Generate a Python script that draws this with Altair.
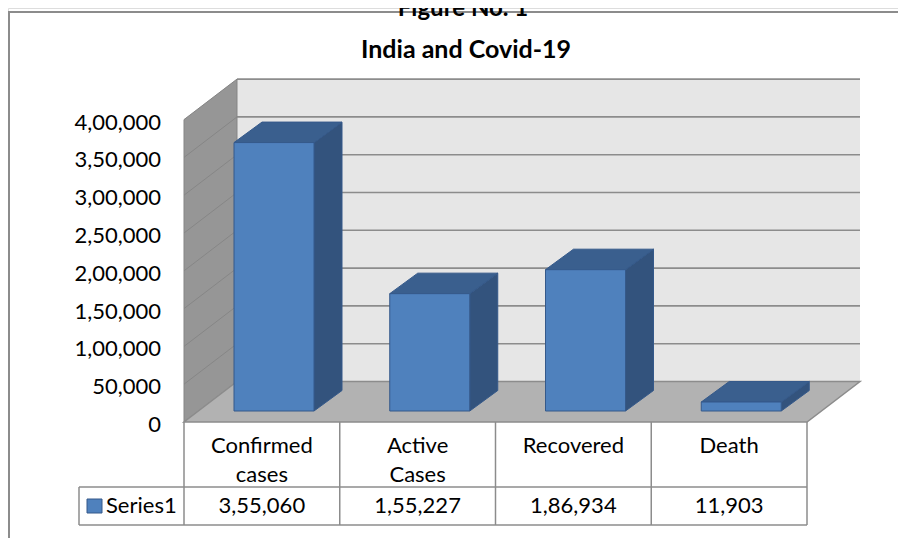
import altair as alt
import pandas as pd

# ---------------- data ----------------
categories = ["Confirmed cases", "Active Cases", "Recovered", "Death"]
label_lines = [["Confirmed", "cases"], ["Active", "Cases"], ["Recovered"], ["Death"]]
values = [355060, 155227, 186934, 11903]
series_name = "Series1"
y_ticks = [0, 50000, 100000, 150000, 200000, 250000, 300000, 350000, 400000]
title_text = "India and Covid-19"
figure_text = "Figure No. 1"


def indian(n):
    s = str(int(n))
    if len(s) <= 3:
        return s
    last3, rest = s[-3:], s[:-3]
    groups = []
    while len(rest) > 2:
        groups.insert(0, rest[-2:])
        rest = rest[:-2]
    if rest:
        groups.insert(0, rest)
    return ",".join(groups + [last3])


# ---------------- geometry (pixels) ----------------
W, H = 890, 530          # whole drawing (page 8..898 x 8..538)
ORIGIN_X = 184 - 8       # px of category axis start from left of drawing
COLW = 155.75            # px per category
PX_PER_VAL = 37.8 / 50000
ZERO_PX = 422 - 8        # pixel row of value 0 from top of drawing
Y_MAX = y_ticks[-1]
N = len(categories)


def cu(px):
    return px / COLW


def vu(px):
    return px / PX_PER_VAL


def pxX(page_x):
    return cu(page_x - 184)


def pxY(page_y):
    return vu(422 - page_y)


FLOOR_DX, FLOOR_DY = 53, 40.5
BAR_L, BAR_R = 50, 130
BAR_FY = 11
BAR_DX, BAR_DY = 28, 20.5
HEAD_H, ROW_H = 65, 38
LEG_W = 105

xs = alt.Scale(domain=[-cu(ORIGIN_X), cu(W - ORIGIN_X)], nice=False, zero=False)
ys = alt.Scale(domain=[-vu(H - ZERO_PX), vu(ZERO_PX)], nice=False, zero=False)

DX, DY = cu(FLOOR_DX), vu(FLOOR_DY)

FRONT = "#4F81BD"
TOPC = "#3A5F8E"
SIDE = "#33537D"
EDGE = "#35598A"
GRID = "#8C8C8C"
TXT = "#000000"
FONT = "Lato"
FS = 22


def X(f, **kw):
    return alt.X(f, type="quantitative", scale=xs, axis=None, **kw)


def Y(f, **kw):
    return alt.Y(f, type="quantitative", scale=ys, axis=None, **kw)


layers = []

# outer frame
frame = pd.DataFrame([
    {"x": pxX(8), "x2": pxX(906), "y": pxY(12), "y2": pxY(12)},
    {"x": pxX(9), "x2": pxX(9), "y": pxY(12), "y2": pxY(540)},
])
layers.append(alt.Chart(frame).mark_rule(color="#8C8C8C", strokeWidth=2).encode(
    x=X("x"), x2="x2", y=Y("y"), y2="y2"))

# back wall
back = pd.DataFrame([{"x": DX, "x2": N + DX, "y": DY, "y2": Y_MAX + DY}])
layers.append(alt.Chart(back).mark_rect(fill="#E6E6E6").encode(
    x=X("x"), x2="x2", y=Y("y"), y2="y2"))

# back wall grid lines
grid_back = pd.DataFrame([{"x": DX, "x2": N + DX, "y": t + DY} for t in y_ticks[1:]])
layers.append(alt.Chart(grid_back).mark_rule(color=GRID, strokeWidth=1.6).encode(
    x=X("x"), x2="x2", y=Y("y")))

# y tick labels (value axis, front plane)
ticks_df = pd.DataFrame([{"x": pxX(161), "y": t - vu(3), "t": indian(t)} for t in y_ticks])
layers.append(alt.Chart(ticks_df).mark_text(font=FONT, fontSize=FS, color=TXT, align="right",
                                            baseline="middle").encode(
    x=X("x"), y=Y("y"), text="t:N"))

# left wall
lw = pd.DataFrame([
    {"x": 0, "y": 0, "y2": Y_MAX},
    {"x": DX, "y": DY, "y2": Y_MAX + DY},
])
layers.append(alt.Chart(lw).mark_area(orient="vertical", fill="#969696", stroke="#858585",
                                      strokeWidth=1, opacity=1).encode(
    x=X("x"), y=Y("y"), y2="y2"))

grid_left = pd.DataFrame([{"x": 0, "x2": DX, "y": t, "y2": t + DY} for t in y_ticks[1:-1]])
layers.append(alt.Chart(grid_left).mark_rule(color="#868686", strokeWidth=1).encode(
    x=X("x"), x2="x2", y=Y("y"), y2="y2"))

# floor
fl = pd.DataFrame([
    {"y": 0, "x": 0, "x2": N},
    {"y": DY, "x": DX, "x2": N + DX},
])
layers.append(alt.Chart(fl).mark_area(orient="horizontal", fill="#B2B2B2", stroke="#8C8C8C",
                                      strokeWidth=1.5, opacity=1).encode(
    y=Y("y"), x=X("x"), x2="x2"))

# bars
base = vu(BAR_FY)
fronts, tops, sides = [], [], []
for i, (c, v) in enumerate(zip(categories, values)):
    xl, xr = i + cu(BAR_L), i + cu(BAR_R)
    fronts.append({"cat": c, "x": xl, "x2": xr, "y": base, "y2": base + v})
    tops.append({"cat": c, "y": base + v, "x": xl, "x2": xr})
    tops.append({"cat": c, "y": base + v + vu(BAR_DY), "x": xl + cu(BAR_DX), "x2": xr + cu(BAR_DX)})
    sides.append({"cat": c, "x": xr, "y": base, "y2": base + v})
    sides.append({"cat": c, "x": xr + cu(BAR_DX), "y": base + vu(BAR_DY), "y2": base + v + vu(BAR_DY)})

layers.append(alt.Chart(pd.DataFrame(sides)).mark_area(orient="vertical", fill=SIDE, stroke=EDGE,
                                                       strokeWidth=1, opacity=1).encode(
    x=X("x"), y=Y("y"), y2="y2", detail="cat:N"))
layers.append(alt.Chart(pd.DataFrame(tops)).mark_area(orient="horizontal", fill=TOPC, stroke=EDGE,
                                                      strokeWidth=1, opacity=1).encode(
    y=Y("y"), x=X("x"), x2="x2", detail="cat:N"))
layers.append(alt.Chart(pd.DataFrame(fronts)).mark_rect(fill=FRONT, stroke=EDGE, strokeWidth=1).encode(
    x=X("x"), x2="x2", y=Y("y"), y2="y2"))

# data table lines
y_top, y_mid, y_bot = 0, -vu(HEAD_H), -vu(HEAD_H + ROW_H)
tbl = [
    {"x": -cu(LEG_W), "x2": N, "y": y_mid, "y2": y_mid},
    {"x": -cu(LEG_W), "x2": N, "y": y_bot, "y2": y_bot},
    {"x": -cu(LEG_W), "x2": -cu(LEG_W), "y": y_mid, "y2": y_bot},
]
for i in range(N + 1):
    tbl.append({"x": i, "x2": i, "y": y_top, "y2": y_bot})
layers.append(alt.Chart(pd.DataFrame(tbl)).mark_rule(color="#8C8C8C", strokeWidth=1.5).encode(
    x=X("x"), x2="x2", y=Y("y"), y2="y2"))

# table texts
cat_rows = []
for i, lines in enumerate(label_lines):
    for j, t in enumerate(lines):
        cat_rows.append({"x": i + 0.5, "y": -vu(31 + 29 * j), "t": t})
for i, v in enumerate(values):
    cat_rows.append({"x": i + 0.5, "y": -vu(91), "t": indian(v)})
layers.append(alt.Chart(pd.DataFrame(cat_rows)).mark_text(
    font=FONT, fontSize=FS, color=TXT, align="center", baseline="alphabetic").encode(
    x=X("x"), y=Y("y"), text="t:N"))

# legend key
key = pd.DataFrame([{"x": pxX(87), "x2": pxX(102), "y": pxY(499), "y2": pxY(513)}])
layers.append(alt.Chart(key).mark_rect(fill=FRONT, stroke=EDGE, strokeWidth=1).encode(
    x=X("x"), x2="x2", y=Y("y"), y2="y2"))
leg = pd.DataFrame([{"x": pxX(106), "y": -vu(91), "t": series_name}])
layers.append(alt.Chart(leg).mark_text(font=FONT, fontSize=FS, color=TXT, align="left",
                                       baseline="alphabetic").encode(
    x=X("x"), y=Y("y"), text="t:N"))

# titles
tt = pd.DataFrame([{"x": pxX(466), "y": pxY(58), "t": title_text}])
layers.append(alt.Chart(tt).mark_text(font=FONT, fontSize=25, fontWeight="bold", color=TXT,
                                      align="center", baseline="alphabetic").encode(
    x=X("x"), y=Y("y"), text="t:N"))
ft = pd.DataFrame([{"x": pxX(463), "y": pxY(16), "t": figure_text}])
layers.append(alt.Chart(ft).mark_text(font=FONT, fontSize=24, fontWeight="bold", color=TXT,
                                      align="center", baseline="alphabetic").encode(
    x=X("x"), y=Y("y"), text="t:N"))

chart = alt.layer(*layers).properties(
    width=W, height=H,
    autosize=alt.AutoSizeParams(type="none"),
    padding={"left": 0, "top": 0, "right": 0, "bottom": 0},
).configure_view(strokeWidth=0, stroke="transparent").configure(background="white")

chart.save("out.html", embed_options={"renderer": "svg", "actions": False})
